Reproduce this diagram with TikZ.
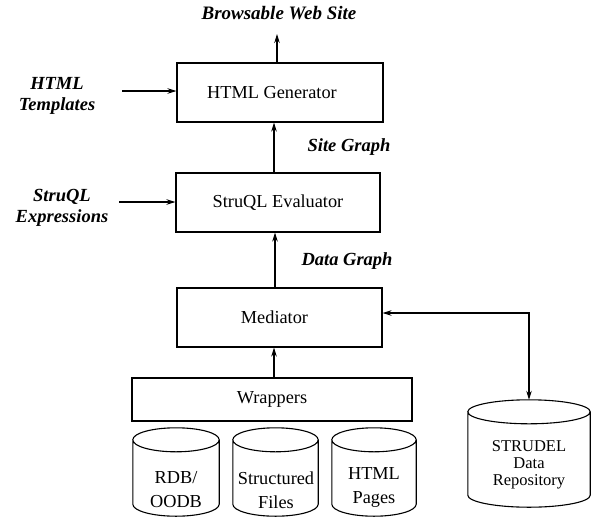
\documentclass[tikz,border=0pt]{standalone}
\usepackage{fontspec}
\setmainfont{Liberation Serif}
\usetikzlibrary{arrows.meta,calc}

\tikzset{
  box/.style={draw, line width=1.1pt, inner sep=0pt,
    font=\fontsize{18.3}{21}\selectfont},
  lbl/.style={font=\fontsize{18.5}{21}\selectfont\bfseries\itshape,
    align=center, inner sep=0pt},
  dbtext/.style={font=\fontsize{18.3}{24}\selectfont, align=center, inner sep=0pt},
  dbbody/.style={inner sep=0pt, draw=none},
  tip/.tip={Stealth[length=9pt,width=5.5pt]},
  flow/.style={line width=1.1pt, -tip},
  both/.style={line width=1.1pt, tip-tip},
}

% cylinder outline over a named body node: #1 = node, #2 = cap radius
\newcommand\drawdb[2]{%
  \draw[line width=1.1pt] let \p1=(#1.north west), \p2=(#1.north east),
      \n1={(\x2-\x1)/2} in
    ([yshift=-#2]#1.north west) -- ([yshift=#2]#1.south west)
    arc[start angle=180, end angle=360, x radius=\n1, y radius=#2]
    -- ([yshift=-#2]#1.north east)
    ([yshift=-#2]#1.north) ellipse[x radius=\n1, y radius=#2];
}

\begin{document}
\begin{tikzpicture}[x=1pt, y=-1pt]
\useasboundingbox (0,0) rectangle (596,525);

% processing stages
\node[box, minimum width=206pt, minimum height=59pt] (gen)  at (280,92.5)  {\hspace*{-16pt}HTML Generator};
\node[box, minimum width=204pt, minimum height=59pt] (eval) at (278,202.5) {StruQL Evaluator};
\node[box, minimum width=205pt, minimum height=59pt] (med)  at (279.5,317.5) {\hspace*{-10pt}Mediator};
\node[box, minimum width=280pt, minimum height=43pt] (wrap) at (272,399.5) {Wrappers};

% data sources and repository
\node[dbbody, minimum width=86pt,  minimum height=88pt]  (rdb)  at (176,472)   {};
\node[dbbody, minimum width=85pt,  minimum height=88pt]  (sf)   at (275.5,472) {};
\node[dbbody, minimum width=84pt,  minimum height=88pt]  (hp)   at (374,472)   {};
\node[dbbody, minimum width=122pt, minimum height=107pt] (repo) at (529,453.5) {};
\drawdb{rdb}{12pt}
\drawdb{sf}{12pt}
\drawdb{hp}{12pt}
\drawdb{repo}{12pt}
\node[dbtext] (rdbt) at (176,490)   {RDB/\\OODB};
\node[dbtext] (sft)  at (276,490)   {Structured\\Files};
\node[dbtext] (hpt)  at (374,487)   {HTML\\Pages};
\node[dbtext, font=\fontsize{16.5}{17}\selectfont] (repot) at (529,465)
  {STRUDEL\\Data\\Repository};

% labels
\node[lbl, font=\fontsize{19}{21}\selectfont\bfseries\itshape] (web) at (279,13) {Browsable Web Site};
\node[lbl] (tmpl) at (57,95.5)   {HTML\\Templates};
\node[lbl] (sg)   at (349,147)   {Site Graph};
\node[lbl] (sq)   at (62,207.5)  {StruQL\\Expressions};
\node[lbl] (dg)   at (347,261)   {Data Graph};
\coordinate (webtip)  at (277,34);
\coordinate (tmplend) at (122,91);
\coordinate (sqend)   at (119,202);

% connectors
\draw[flow] (gen.north -| webtip) -- (webtip);
\draw[flow] (tmplend) -- (gen.west |- tmplend);
\draw[flow] (sqend) -- (eval.west |- sqend);
\draw[flow] ([xshift=-4pt]eval.north) -- ([xshift=-6pt]gen.south);
\draw[flow] ([xshift=-4.5pt]med.north) -- ([xshift=-3pt]eval.south);
\draw[flow] ([xshift=2pt]wrap.north) -- ([xshift=-5.5pt]med.south);
\draw[both] ([yshift=4.5pt]med.east) -| (repo.north);
\end{tikzpicture}
\end{document}
